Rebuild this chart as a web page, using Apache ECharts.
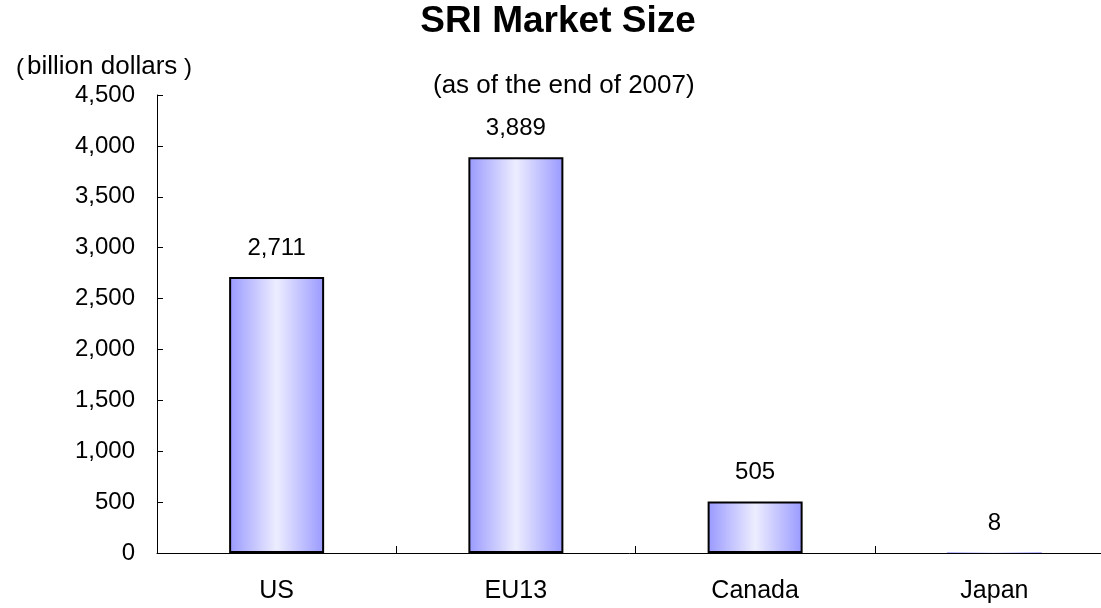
<!DOCTYPE html>
<html>
<head>
<meta charset="utf-8">
<script src="https://cdn.jsdelivr.net/npm/echarts@6/dist/echarts.min.js"></script>
<style>html,body{margin:0;padding:0;background:#fff;}#c{width:1101px;height:608px;}</style>
</head>
<body>
<div id="c"></div>
<script>
const categories = ['US', 'EU13', 'Canada', 'Japan'];
const values = [2711, 3889, 505, 8];
const yTicks = [0, 500, 1000, 1500, 2000, 2500, 3000, 3500, 4000, 4500];
const titleText = 'SRI Market Size';
const subtitleText = '(as of the end of 2007)';
const unitText = 'billion dollars';

const fmt = v => Number(v).toLocaleString('en-US');
const FONT = "'Liberation Sans', Arial, sans-serif";

const barData = values.map(v => (v < 50 ? {value: v, itemStyle: {borderWidth: 0}} : v));

const chart = echarts.init(document.getElementById('c'), null, {renderer: 'canvas'});
chart.setOption({
  backgroundColor: '#ffffff',
  animation: false,
  graphic: [
    {type: 'text', x: 558, y: 22, style: {text: titleText, font: "bold 37px 'Liberation Sans', Arial, sans-serif", fill: '#000', align: 'center', verticalAlign: 'middle'}},
    {type: 'text', x: 16, y: 68, style: {text: '(', font: "24px 'Liberation Sans', Arial, sans-serif", fill: '#000', align: 'left', verticalAlign: 'middle'}},
    {type: 'text', x: 27, y: 67, style: {text: unitText, font: "26px 'Liberation Sans', Arial, sans-serif", fill: '#000', align: 'left', verticalAlign: 'middle'}},
    {type: 'text', x: 184, y: 68, style: {text: ')', font: "24px 'Liberation Sans', Arial, sans-serif", fill: '#000', align: 'left', verticalAlign: 'middle'}},
    {type: 'text', x: 433, y: 86, style: {text: subtitleText, font: "26px 'Liberation Sans', Arial, sans-serif", fill: '#000', align: 'left', verticalAlign: 'middle'}}
  ],
  grid: {left: 157, top: 95, right: -13, bottom: 55, containLabel: false, outerBoundsMode: 'none'},
  xAxis: {
    type: 'category',
    data: categories,
    boundaryGap: true,
    axisLine: {lineStyle: {color: '#000', width: 1}},
    axisTick: {show: true, inside: true, length: 7, alignWithLabel: false, lineStyle: {color: '#000'}},
    axisLabel: {fontFamily: FONT, fontSize: 25, color: '#000', margin: 26},
    splitLine: {show: false}
  },
  yAxis: {
    type: 'value',
    min: yTicks[0],
    max: yTicks[yTicks.length - 1],
    interval: yTicks[1] - yTicks[0],
    axisLine: {show: true, lineStyle: {color: '#000', width: 1}},
    axisTick: {show: true, inside: true, length: 6, lineStyle: {color: '#000'}},
    axisLabel: {fontFamily: FONT, fontSize: 24, color: '#000', margin: 22, formatter: fmt},
    splitLine: {show: false}
  },
  series: [{
    type: 'bar',
    data: barData,
    barWidth: 95,
    itemStyle: {
      color: new echarts.graphic.LinearGradient(0, 0, 1, 0, [
        {offset: 0, color: '#9999ff'},
        {offset: 0.5, color: '#ededff'},
        {offset: 1, color: '#9999ff'}
      ]),
      borderColor: '#000',
      borderWidth: 2
    },
    label: {
      show: true,
      position: 'top',
      distance: 17,
      fontFamily: FONT,
      fontSize: 24,
      color: '#000',
      formatter: p => fmt(p.value)
    }
  }]
});
</script>
</body>
</html>
